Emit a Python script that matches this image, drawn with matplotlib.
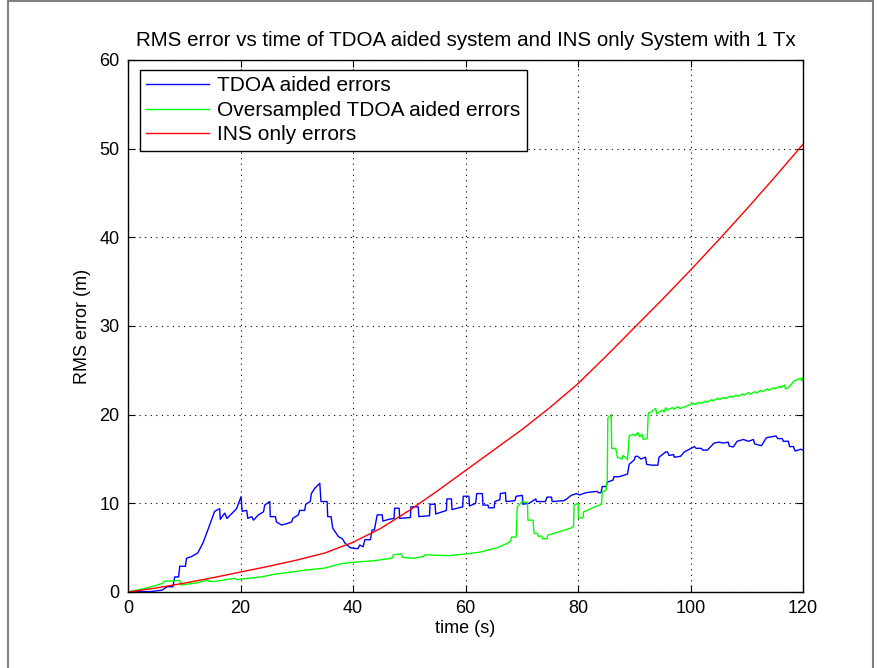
import matplotlib
matplotlib.use("Agg")
import matplotlib.pyplot as plt
from matplotlib.patches import Rectangle

plt.rcParams['font.family'] = ['Liberation Sans', 'DejaVu Sans']

title = "RMS error vs time of TDOA aided system and INS only System with 1 Tx"
xlabel = "time (s)"
ylabel = "RMS error (m)"
labels = ["TDOA aided errors", "Oversampled TDOA aided errors", "INS only errors"]
xticks = [0, 20, 40, 60, 80, 100, 120]
yticks = [0, 10, 20, 30, 40, 50, 60]

tdoa_t = [0, 4, 6, 7, 8, 8.3, 9.0, 9.2, 10.2, 10.4, 11.3, 12.4, 13.3, 14.2, 15.4, 16.3, 16.4, 17.2, 17.6,
          19.3, 20.1, 20.3, 21.1, 21.3, 22, 22.3, 23.2, 24.1, 24.3, 25.2, 25.3, 26.2, 26.4, 27.3, 28.2, 29.1,
          29.3, 30.3, 30.5, 31.4, 31.6, 32.4, 32.6, 33.2, 34.1, 34.3, 35.4, 35.5, 36.1, 36.4, 37.4, 38.1,
          38.6, 39.5, 40.4, 40.9, 41.2, 41.8, 42.1, 43.1, 43.4, 43.8, 44.3, 45.2, 45.3, 46.4, 47.3, 47.4,
          48.2, 48.3, 50.2, 50.3, 51.6, 51.7, 53.6, 53.7, 54.6, 54.7, 56.6, 56.7, 57.5, 57.6, 59.5, 59.6,
          60.6, 60.7, 61.8, 62.0, 63.0, 63.1, 64.0, 64.1, 65.1, 65.2, 66.1, 66.2, 67.1, 67.2, 68.8, 69.0,
          70.1, 70.2, 71.3, 72.5, 72.6, 74.2, 74.5, 75.3, 75.4, 77.5, 78.0, 78.8, 79.7, 80.3, 81.4, 82.6,
          83.4, 83.6, 84.1, 84.3, 85.0, 85.2, 86.2, 86.4, 87.3, 88.8, 89.1, 90.0, 90.2, 90.6, 91.2, 92.0,
          92.2, 93.2, 94.2, 94.4, 95.0, 95.6, 95.9, 96.2, 97.0, 97.1, 98.2, 98.5, 98.9, 99.8, 100.7, 101.0,
          101.9, 102.2, 103.0, 104.2, 105.1, 105.8, 106.7, 106.9, 107.6, 108.3, 109.4, 110.3, 111.2, 111.4,
          112.6, 113.5, 114.3, 115.2, 115.5, 116.3, 116.5, 117.4, 117.6, 118.3, 118.6, 119.6, 120]
tdoa_v = [0, 0.05, 0.2, 0.6, 0.6, 1.7, 1.7, 2.9, 2.9, 3.8, 4.0, 4.4, 5.5, 7.0, 9.1, 9.4, 8.2, 8.9, 8.3,
          9.4, 10.75, 9.1, 9.2, 8.3, 8.5, 8.1, 8.7, 9.05, 9.8, 10.2, 8.5, 8.5, 7.9, 7.55, 7.7, 7.9,
          8.3, 8.7, 9.2, 9.2, 9.9, 10.2, 11.1, 11.7, 12.25, 10.2, 10.2, 8.5, 8.5, 7.2, 6.25, 6.0,
          5.5, 5.0, 4.9, 4.9, 5.3, 5.1, 5.9, 5.9, 7.0, 7.0, 8.7, 8.7, 8.0, 8.2, 8.3, 9.45,
          9.45, 8.3, 8.4, 9.6, 9.6, 8.5, 8.6, 9.9, 9.9, 8.8, 9.2, 10.5, 10.5, 9.3, 9.6, 10.8,
          10.8, 9.7, 10.0, 11.1, 11.1, 9.8, 9.8, 9.5, 9.5, 10.2, 10.4, 11.1, 11.2, 10.2, 10.3, 10.8,
          10.9, 9.9, 10.0, 10.5, 10.2, 10.2, 10.7, 10.7, 10.2, 10.3, 10.5, 10.9, 11.1, 10.95, 11.2, 11.3,
          11.35, 11.2, 11.2, 11.9, 11.9, 12.4, 12.6, 13.0, 13.0, 13.3, 14.4, 14.9, 15.3, 15.3, 15.0, 15.2,
          14.4, 14.3, 14.3, 15.2, 15.5, 15.8, 15.8, 15.4, 15.5, 15.2, 15.3, 15.5, 15.8, 16.1, 16.4, 16.2,
          16.2, 16.0, 16.0, 16.8, 16.9, 16.8, 16.9, 16.45, 16.35, 17.0, 17.2, 17.0, 17.2, 16.7,
          16.5, 17.4, 17.5, 17.6, 17.3, 17.3, 17.0, 17.0, 16.4, 16.4, 15.9, 16.1, 16.0]

over_t = [0, 3, 5.3, 6.2, 6.4, 9.2, 9.4, 12, 14.2, 14.4, 15.6, 19, 19.2, 23.7, 26, 29.6, 32, 35, 37.9,
          40.9, 43.4, 46.9, 47.2, 48.6, 48.8, 50.8, 52.5, 52.8, 57, 60.2, 62.6, 65.7, 67.1, 68.0, 68.2,
          69.0, 69.2, 70.1, 71.0, 71.1, 72.0, 72.2, 72.8, 72.9, 73.6, 73.7, 74.5, 74.6, 78.7, 79.2, 79.3,
          80.0, 80.1, 80.9, 81.0, 83.4, 84.2, 84.3, 85.0, 85.2, 85.3, 85.9, 86.0, 86.7, 87.0, 87.8, 88.0,
          88.4, 88.8, 89.1, 89.9, 90.2, 90.6, 91.0, 91.4, 91.6, 92.3, 92.5, 93.0, 93.8, 94.0, 95.0, 95.3,
          95.6, 95.9, 96.8, 97.1, 97.7, 98.2, 99.8, 100.6, 100.8, 101.6, 101.8, 102.7, 102.9, 103.8, 104.0,
          104.9, 105.1, 106.0, 106.2, 107.1, 107.3, 108.2, 108.4, 109.3, 109.5, 110.4, 110.6, 111.5, 111.7,
          112.6, 112.8, 113.7, 113.9, 114.8, 115.0, 115.9, 116.1, 116.7, 116.9, 117.5, 118.4, 119.5, 119.8, 120]
over_v = [0, 0.4, 0.8, 1.0, 1.2, 1.3, 0.8, 1.0, 1.35, 1.2, 1.2, 1.55, 1.4, 1.7, 2.0, 2.3, 2.5, 2.7, 3.2,
          3.4, 3.5, 3.8, 4.2, 4.3, 3.9, 3.8, 4.0, 4.2, 4.1, 4.3, 4.5, 5.0, 5.4, 5.7, 6.2,
          6.2, 9.6, 10.2, 10.1, 8.1, 8.1, 6.6, 6.6, 6.3, 6.3, 6.0, 6.0, 6.4, 7.2, 7.4, 9.8,
          10.0, 8.3, 8.4, 9.05, 9.7, 9.9, 11.3, 11.5, 12.55, 19.6, 20.0, 16.2, 16.2, 15.2, 15.0, 15.4,
          15.2, 14.9, 17.6, 17.8, 17.6, 18.0, 17.5, 17.8, 17.2, 17.3, 20.2, 20.3, 20.7, 20.1, 20.5, 20.3,
          20.8, 20.5, 20.8, 20.6, 20.9, 20.7, 21.1, 21.3, 21.15, 21.4, 21.25, 21.55, 21.4, 21.7, 21.55,
          21.85, 21.7, 21.95, 21.8, 22.1, 21.95, 22.2, 22.05, 22.35, 22.2, 22.5, 22.3, 22.6, 22.45,
          22.75, 22.6, 22.9, 22.75, 23.05, 22.9, 23.2, 23.05, 23.35, 22.9, 23.1, 23.8, 24.1, 23.8, 24.2]

ins_t = [0, 5, 10, 15, 20, 25, 30, 35, 40, 45, 50, 55, 60, 65, 70, 75, 80, 85, 90, 95, 100, 105, 110, 115, 120]
ins_v = [0, 0.45, 1.0, 1.6, 2.25, 2.9, 3.6, 4.4, 5.6, 7.2, 9.2, 11.4, 13.7, 16.0, 18.3, 20.8, 23.5, 26.6,
         29.8, 33.0, 36.3, 39.7, 43.2, 46.8, 50.5]

fig = plt.figure(figsize=(8.8, 6.68), dpi=100)
fig.patches.append(Rectangle((8/880, -0.01), 865/880, 1.01 - 1.5/668, transform=fig.transFigure,
                             fill=False, edgecolor='#808080', linewidth=1.5))
ax = fig.add_axes([128/880, 76/668, 675/880, 532/668])

ax.plot(tdoa_t, tdoa_v, color='#0000ff', lw=1.0, label=labels[0])
ax.plot(over_t, over_v, color='#00ff00', lw=1.0, label=labels[1])
ax.plot(ins_t, ins_v, color='#ff0000', lw=1.0, label=labels[2])

ax.set_xlim(0, 120)
ax.set_ylim(0, 60)
ax.set_xticks(xticks)
ax.set_yticks(yticks)
ax.tick_params(direction='in', top=True, right=True, labelsize=13, length=5, width=0.8, pad=6)
ax.grid(True, color='black', linestyle=(0, (1, 4)), linewidth=0.8)
for s in ax.spines.values():
    s.set_linewidth(1.0)
ax.set_title(title, fontsize=14.8, pad=10)
ax.set_xlabel(xlabel, fontsize=13, labelpad=2)
ax.set_ylabel(ylabel, fontsize=13, labelpad=6)

leg = ax.legend(loc='upper left', bbox_to_anchor=(12/675, 1 - 10/532), fontsize=15,
                frameon=True, fancybox=False, framealpha=1, edgecolor='black',
                handlelength=3.0, handletextpad=0.4, borderpad=0.3, labelspacing=0.27,
                borderaxespad=0)
leg.get_frame().set_linewidth(1.0)

fig.savefig("out.png", dpi=100)
